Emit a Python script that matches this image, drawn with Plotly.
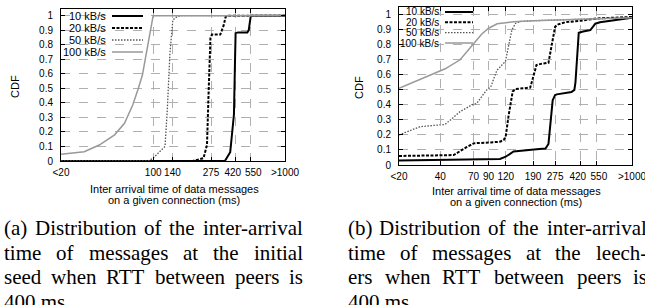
import math
import plotly.graph_objects as go

W, H = 645, 305

# ---------------- data ----------------
series_names = ["10 kB/s", "20 kB/s", "50 kB/s", "100 kB/s"]
x_tickvals_a = [20, 100, 140, 275, 420, 550, 1000]
x_ticktext_a = ["<20", "100", "140", "275", "420\u2002", "\u2002550", ">1000"]
x_tickvals_b = [20, 40, 70, 90, 120, 190, 275, 420, 550, 1000]
x_ticktext_b = ["<20", "40", "70", "90", "120", "190", "275", "420\u2002", "\u2002550", ">1000"]
y_tickvals = [0, 0.1, 0.2, 0.3, 0.4, 0.5, 0.6, 0.7, 0.8, 0.9, 1]
y_ticktext = ["0", "0.1", "0.2", "0.3", "0.4", "0.5", "0.6", "0.7", "0.8", "0.9", "1"]

# (a) initial seed
a10_x = [20, 350, 384, 400, 410, 418, 422, 440, 518, 531, 548, 560, 1000]
a10_y = [0, 0, 0.06, 0.2, 0.32, 0.7, 0.88, 0.885, 0.885, 0.90, 0.99, 1, 1]
a20_x = [20, 200, 241, 256, 264, 272, 279, 323, 343, 354, 365, 1000]
a20_y = [0, 0, 0.02, 0.11, 0.5, 0.845, 0.87, 0.87, 0.935, 0.99, 1, 1]
a50_x = [20, 92, 100, 110, 123, 128, 134, 141, 150, 160, 1000]
a50_y = [0, 0, 0.02, 0.06, 0.10, 0.35, 0.74, 0.97, 0.99, 1, 1]
a100_x = [20, 30, 39, 51, 60.6, 70, 76.6, 82.8, 87.5, 91.5, 95.4, 100, 1000]
a100_y = [0.046, 0.064, 0.11, 0.18, 0.26, 0.385, 0.49, 0.59, 0.71, 0.80, 0.89, 1.0, 1.0]

# (b) leechers
b10_x = [20, 98, 109, 120, 137, 202, 234, 246, 254, 264, 275, 283, 362, 380, 387,
         400, 409, 440, 497, 520, 540, 584, 1000]
b10_y = [0.03, 0.038, 0.04, 0.055, 0.09, 0.105, 0.11, 0.14, 0.255, 0.43, 0.466, 0.47,
         0.485, 0.5, 0.55, 0.75, 0.88, 0.888, 0.898, 0.92, 0.94, 0.95, 0.98]
b20_x = [20, 50, 62.6, 70.6, 93, 109, 116, 120, 126, 135, 141.6, 181, 191, 201, 222,
         246, 260, 275, 290, 327, 421, 556, 1000]
b20_y = [0.06, 0.066, 0.12, 0.145, 0.15, 0.155, 0.166, 0.19, 0.33, 0.49, 0.505, 0.515,
         0.59, 0.665, 0.675, 0.68, 0.80, 0.92, 0.936, 0.95, 0.96, 0.975, 0.985]
b50_x = [20, 28.5, 38.7, 43.4, 55.8, 68, 73.7, 87.3, 93.4, 103.5, 112.6, 119.5, 129,
         133.3, 141.6, 154.6, 190, 420, 1000]
b50_y = [0.20, 0.255, 0.266, 0.27, 0.355, 0.40, 0.41, 0.50, 0.52, 0.63, 0.665, 0.69,
         0.84, 0.90, 0.943, 0.955, 0.96, 0.97, 0.98]
b100_x = [20, 31.9, 43.4, 55.8, 70, 80, 90, 104, 137, 191, 420, 1000]
b100_y = [0.51, 0.59, 0.64, 0.70, 0.81, 0.87, 0.91, 0.94, 0.953, 0.96, 0.97, 0.98]

caption_a = [
    [(4, "(a)"), (35, "Distribution"), (144, "of"), (169, "the"), (202.5, "inter-arrival")],
    [(4, "time"), (56.3, "of"), (88.8, "messages"), (183.1, "at"), (213.3, "the"), (254, "initial")],
    [(4, "seed"), (50.9, "when"), (106, "RTT"), (155.3, "between"), (234.9, "peers"), (288.9, "is")],
    [(4, "400 ms.")],
]
caption_b = [
    [(348, "(b)"), (379, "Distribution"), (488, "of"), (513, "the"), (546.5, "inter-arrival")],
    [(348, "time"), (399.8, "of"), (431.8, "messages"), (525.6, "at"), (555.3, "the"), (595.5, "leech-")],
    [(348, "ers"), (384.7, "when"), (442.4, "RTT"), (494.3, "between"), (576.5, "peers"), (633, "is")],
    [(348, "400 ms.")],
]

# ---------------- styles ----------------
styles = [
    dict(color="black", width=2, dash="solid"),
    dict(color="black", width=2, dash="3px,1.5px"),
    dict(color="#555555", width=1.3, dash="1.5px,1.5px"),
    dict(color="#999999", width=1.5, dash="solid"),
]

def px(x):
    return x / W

def py(y):
    return 1 - y / H

fig = go.Figure()

panel_a = [(a10_x, a10_y), (a20_x, a20_y), (a50_x, a50_y), (a100_x, a100_y)]
panel_b = [(b10_x, b10_y), (b20_x, b20_y), (b50_x, b50_y), (b100_x, b100_y)]

for (xs, ys), name, st in zip(panel_a, series_names, styles):
    fig.add_trace(go.Scatter(x=xs, y=ys, mode="lines", name=name, line=st,
                             xaxis="x", yaxis="y", showlegend=False))
for (xs, ys), name, st in zip(panel_b, series_names, styles):
    fig.add_trace(go.Scatter(x=xs, y=ys, mode="lines", name=name, line=st,
                             xaxis="x2", yaxis="y2", showlegend=False))

SANS = "Liberation Sans, Arial, sans-serif"
xtick_font = dict(family=SANS, size=10, color="black")
ytick_font = dict(family=SANS, size=10, color="black")

def xaxis(domain, tv, tt, anchor):
    return dict(domain=domain, type="log", range=[math.log10(20), math.log10(1000)],
                tickvals=tv, ticktext=tt, tickangle=0, showgrid=True, gridcolor="#b0b0b0",
                griddash="dash", gridwidth=1, showline=True, linecolor="black", linewidth=1,
                mirror="ticks", ticks="inside", ticklen=4, tickcolor="black",
                tickfont=xtick_font, zeroline=False, fixedrange=True, automargin=False,
                anchor=anchor, ticklabeloverflow="allow", ticklabelstandoff=2)

def yaxis(domain, top, anchor):
    return dict(domain=domain, range=[0, top], tickvals=y_tickvals, ticktext=y_ticktext,
                showgrid=True, gridcolor="#b0b0b0", griddash="dash", gridwidth=1,
                showline=True, linecolor="black", linewidth=1, mirror="ticks",
                ticks="inside", ticklen=4, tickcolor="black", tickfont=ytick_font,
                zeroline=False, anchor=anchor, ticklabelstandoff=5, fixedrange=True,
                automargin=False, ticklabeloverflow="allow")

fig.update_layout(
    width=W, height=H, margin=dict(l=0, r=0, t=0, b=0, autoexpand=False),
    paper_bgcolor="white", plot_bgcolor="white", showlegend=False,
    xaxis=xaxis([px(61), px(285)], x_tickvals_a, x_ticktext_a, "y"),
    yaxis=yaxis([py(161), py(9)], (161 - 9) / 145.3, "x"),
    xaxis2=xaxis([px(399), px(632)], x_tickvals_b, x_ticktext_b, "y2"),
    yaxis2=yaxis([py(165), py(7.3)], (165 - 7.3) / 150.3, "x2"),
)

annotations = []
shapes = []

# legends (gnuplot-style: text right-aligned, sample to the right)
def key(box, text_right, line_x0, line_x1, rows, fsize):
    shapes.append(dict(type="rect", xref="paper", yref="paper",
                       x0=px(box[0]), x1=px(box[1]), y0=py(box[3]), y1=py(box[2]),
                       fillcolor="white", line=dict(width=0), layer="between"))
    for name, st, ry in zip(series_names, styles, rows):
        annotations.append(dict(text=name, x=px(text_right), y=py(ry), xref="paper",
                                yref="paper", xanchor="right", yanchor="middle",
                                showarrow=False, borderpad=0,
                                font=dict(family=SANS, size=fsize, color="black")))
        shapes.append(dict(type="line", xref="paper", yref="paper",
                           x0=px(line_x0), x1=px(line_x1), y0=py(ry), y1=py(ry),
                           line=st, layer="above"))

key((61.5, 147, 9.5, 57), 107, 112, 143, [16, 28, 40, 52], 11)
key((399.5, 476, 7.8, 48), 440, 445, 473, [12, 22.3, 32.6, 43], 10)

# axis titles
title_font = dict(family=SANS, size=11, color="black")
for xc, y1, y2 in [(174, 188.5, 199.5), (516, 191, 201.5)]:
    annotations.append(dict(text="Inter arrival time of data messages", x=px(xc), y=py(y1),
                            xref="paper", yref="paper", xanchor="center", yanchor="middle",
                            showarrow=False, font=title_font, borderpad=0))
    annotations.append(dict(text="on a given connection (ms)", x=px(xc), y=py(y2),
                            xref="paper", yref="paper", xanchor="center", yanchor="middle",
                            showarrow=False, font=title_font, borderpad=0))
for xc, yc in [(15, 87), (359, 88)]:
    annotations.append(dict(text="CDF", x=px(xc), y=py(yc), xref="paper", yref="paper",
                            xanchor="center", yanchor="middle", textangle=-90,
                            showarrow=False, font=dict(family=SANS, size=11, color="black")))

# captions
cap_font = dict(family="Liberation Serif, Times New Roman, serif", size=21, color="black")
line_centers = [228, 252.5, 277, 301.5]
for cap in (caption_a, caption_b):
    for words, yc in zip(cap, line_centers):
        for xw, w in words:
            annotations.append(dict(text=w, x=px(xw), y=py(yc), xref="paper", yref="paper",
                                    xanchor="left", yanchor="middle", showarrow=False,
                                    font=cap_font, borderpad=0, borderwidth=0))

fig.update_layout(annotations=annotations, shapes=shapes)
fig.write_html("out.html", config={"displayModeBar": False},
               post_script="document.body.style.margin='0px';"
                           "document.body.style.overflow='hidden';")
